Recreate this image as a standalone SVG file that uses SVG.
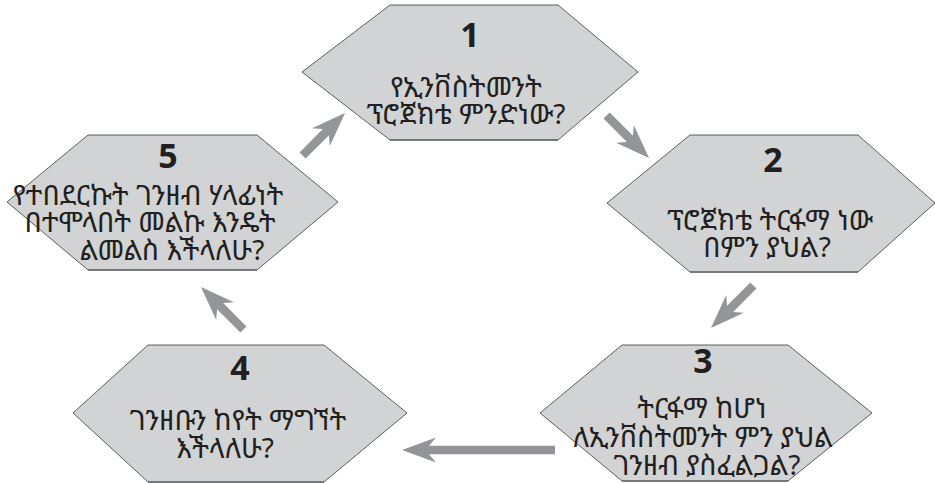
<svg xmlns="http://www.w3.org/2000/svg" width="935" height="483" viewBox="0 0 935 483">
<style>
.hex{fill:#d1d3d4;stroke:#3a3a3a;stroke-width:0.8}
.shadow{fill:none;stroke:#77787b;stroke-width:2.2}
.num{font-family:"Open Sans","Liberation Sans",sans-serif;font-weight:bold;font-size:34px;fill:#231f20;text-anchor:middle}
.txt{font-family:"Noto Sans Ethiopic","Noto Sans","DejaVu Sans",sans-serif;font-size:28px;fill:#231f20;text-anchor:middle}
.arr{fill:#939598}
</style>
<defs>
<path id="ah" d="M0,0 L-34,-12.5 L-27,-4.3 L-60,-4.3 L-60,4.3 L-27,4.3 L-34,12.5 Z"/>
</defs>
<rect width="935" height="483" fill="#ffffff"/>
<g id="connectors">
<use href="#ah" class="arr" transform="translate(649,158) rotate(45)"/>
<use href="#ah" class="arr" transform="translate(711,328) rotate(135)"/>
<path class="arr" d="M402,450 L436,437.5 L429,445.7 L555,445.7 L555,454.3 L429,454.3 L436,462.5 Z"/>
<use href="#ah" class="arr" transform="translate(201,287) rotate(-135)"/>
<use href="#ah" class="arr" transform="translate(345,113) rotate(-45)"/>
</g>
<g id="node1">
<polygon class="hex" points="302,72 390,5 558,5 638,72 558,140 390,140"/>
<line class="shadow" x1="390" y1="140" x2="558" y2="140"/>
<text class="num" x="470" y="47">1</text>
<text class="txt" x="466" y="97">የኢንቨስትመንት</text>
<text class="txt" x="466" y="124">ፕሮጀክቴ ምንድነው?</text>
</g>
<g id="node2">
<polygon class="hex" points="607,203 690,135 858,135 935,203 858,272 690,272"/>
<line class="shadow" x1="690" y1="272" x2="858" y2="272"/>
<text class="num" x="773" y="172">2</text>
<text class="txt" x="770" y="230">ፕሮጀክቴ ትርፋማ ነው</text>
<text class="txt" x="767" y="257">በምን ያህል?</text>
</g>
<g id="node3">
<polygon class="hex" points="540,413 622,345 788,345 872,413 788,481 622,481"/>
<line class="shadow" x1="622" y1="481" x2="788" y2="481"/>
<text class="num" x="703" y="373">3</text>
<text class="txt" x="702" y="418">ትርፋማ ከሆነ</text>
<text class="txt" x="703" y="447">ለኢንቨስትመንት ምን ያህል</text>
<text class="txt" x="707" y="475">ገንዘብ ያስፈልጋል?</text>
</g>
<g id="node4">
<polygon class="hex" points="73,413 148,345 324,345 407,413 324,482 148,482"/>
<line class="shadow" x1="148" y1="482" x2="324" y2="482"/>
<text class="num" x="240" y="380">4</text>
<text class="txt" x="238" y="430">ገንዘቡን ከየት ማግኘት</text>
<text class="txt" x="225" y="458">እችላለሁ?</text>
</g>
<g id="node5">
<polygon class="hex" points="7,202 88,135 257,135 338,202 257,270 88,270"/>
<line class="shadow" x1="88" y1="270" x2="257" y2="270"/>
<text class="num" x="168" y="168">5</text>
<text class="txt" x="148" y="205">የተበደርኩት ገንዘብ ሃላፊነት</text>
<text class="txt" x="150" y="232">በተሞላበት መልኩ እንዴት</text>
<text class="txt" x="172" y="260">ልመልስ እችላለሁ?</text>
</g>
</svg>
